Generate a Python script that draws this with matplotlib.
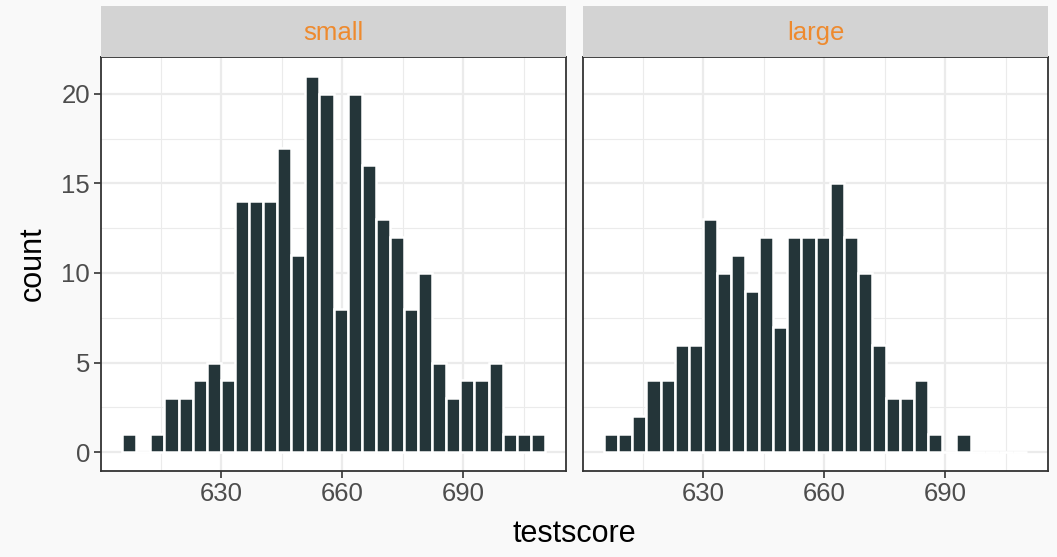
import matplotlib
matplotlib.use("Agg")
import matplotlib.pyplot as plt
import numpy as np

# histogram of test scores by class size, 30 shared bins
BIN_START = 605.47
BIN_WIDTH = 3.49
N_BINS = 30

PANELS = ["small", "large"]
COUNTS_SMALL = [1, 0, 1, 3, 3, 4, 5, 4, 14, 14, 14, 17, 11, 21, 20,
                8, 20, 16, 13, 12, 8, 10, 5, 3, 4, 4, 5, 1, 1, 1]
COUNTS_LARGE = [1, 1, 2, 4, 4, 6, 6, 13, 10, 11, 9, 12, 7, 12, 12,
                12, 15, 12, 10, 6, 3, 3, 4, 1, 0, 1, 0, 0, 0, 0]

X_TICKS = [630, 660, 690]
X_MINOR = [600, 615, 645, 675, 705]
Y_TICKS = [0, 5, 10, 15, 20]
Y_MINOR = [2.5, 7.5, 12.5, 17.5]

BAR_COLOR = "#243539"
STRIP_FILL = "#D3D3D3"
STRIP_TEXT = "#EE8A2E"
BG = "#F9F9F9"
GRID = "#EBEBEB"
FONT = "Liberation Sans"

W, H = 1057, 557
fig = plt.figure(figsize=(W / 100, H / 100), dpi=100)
fig.patch.set_facecolor(BG)
plt.rcParams["font.family"] = FONT


def px_axes(x0, y0, x1, y1):
    return fig.add_axes([x0 / W, 1 - y1 / H, (x1 - x0) / W, (y1 - y0) / H])


edges = BIN_START + BIN_WIDTH * np.arange(N_BINS)
lo, hi = BIN_START, BIN_START + BIN_WIDTH * N_BINS
pad_x = (hi - lo) * 0.05
ymax = max(max(COUNTS_SMALL), max(COUNTS_LARGE))

panel_x = [(101, 566), (583, 1048)]
for i, (name, counts) in enumerate(zip(PANELS, [COUNTS_SMALL, COUNTS_LARGE])):
    x0, x1 = panel_x[i]
    ax = px_axes(x0, 57, x1, 471)
    ax.set_facecolor("white")
    for x in X_MINOR:
        ax.axvline(x, color=GRID, lw=0.8, zorder=0)
    for y in Y_MINOR:
        ax.axhline(y, color=GRID, lw=0.8, zorder=0)
    for x in X_TICKS:
        ax.axvline(x, color=GRID, lw=1.6, zorder=0)
    for y in Y_TICKS:
        ax.axhline(y, color=GRID, lw=1.6, zorder=0)

    ax.bar(edges, counts, width=BIN_WIDTH, align="edge", color=BAR_COLOR,
           edgecolor="white", linewidth=1.8, zorder=2)

    ax.set_xlim(lo - pad_x, hi + pad_x)
    ax.set_ylim(-ymax * 0.05, ymax * 1.05)
    ax.set_xticks(X_TICKS)
    ax.set_yticks(Y_TICKS)
    ax.tick_params(axis="both", length=5, width=1.2, color="#333333",
                   labelsize=18.5, labelcolor="#4D4D4D", pad=3)
    if i > 0:
        # inner facet: no y axis
        ax.tick_params(axis="y", left=False, labelleft=False)
    for sp in ax.spines.values():
        sp.set_color("#333333")
        sp.set_linewidth(1.3)
        sp.set_zorder(3)

    strip = px_axes(x0, 6, x1, 57)
    strip.set_facecolor(STRIP_FILL)
    strip.set_xticks([])
    strip.set_yticks([])
    for sp in strip.spines.values():
        sp.set_visible(False)
    strip.text(0.5, 0.47, name, transform=strip.transAxes, ha="center",
               va="center", color=STRIP_TEXT, fontsize=18.5)

fig.text(574.5 / W, 1 - 534 / H, "testscore", ha="center", va="center",
         fontsize=22, color="black")
fig.text(33 / W, 1 - 264 / H, "count", ha="center", va="center",
         rotation=90, fontsize=22, color="black")

fig.savefig("out.png", dpi=100, facecolor=BG)
